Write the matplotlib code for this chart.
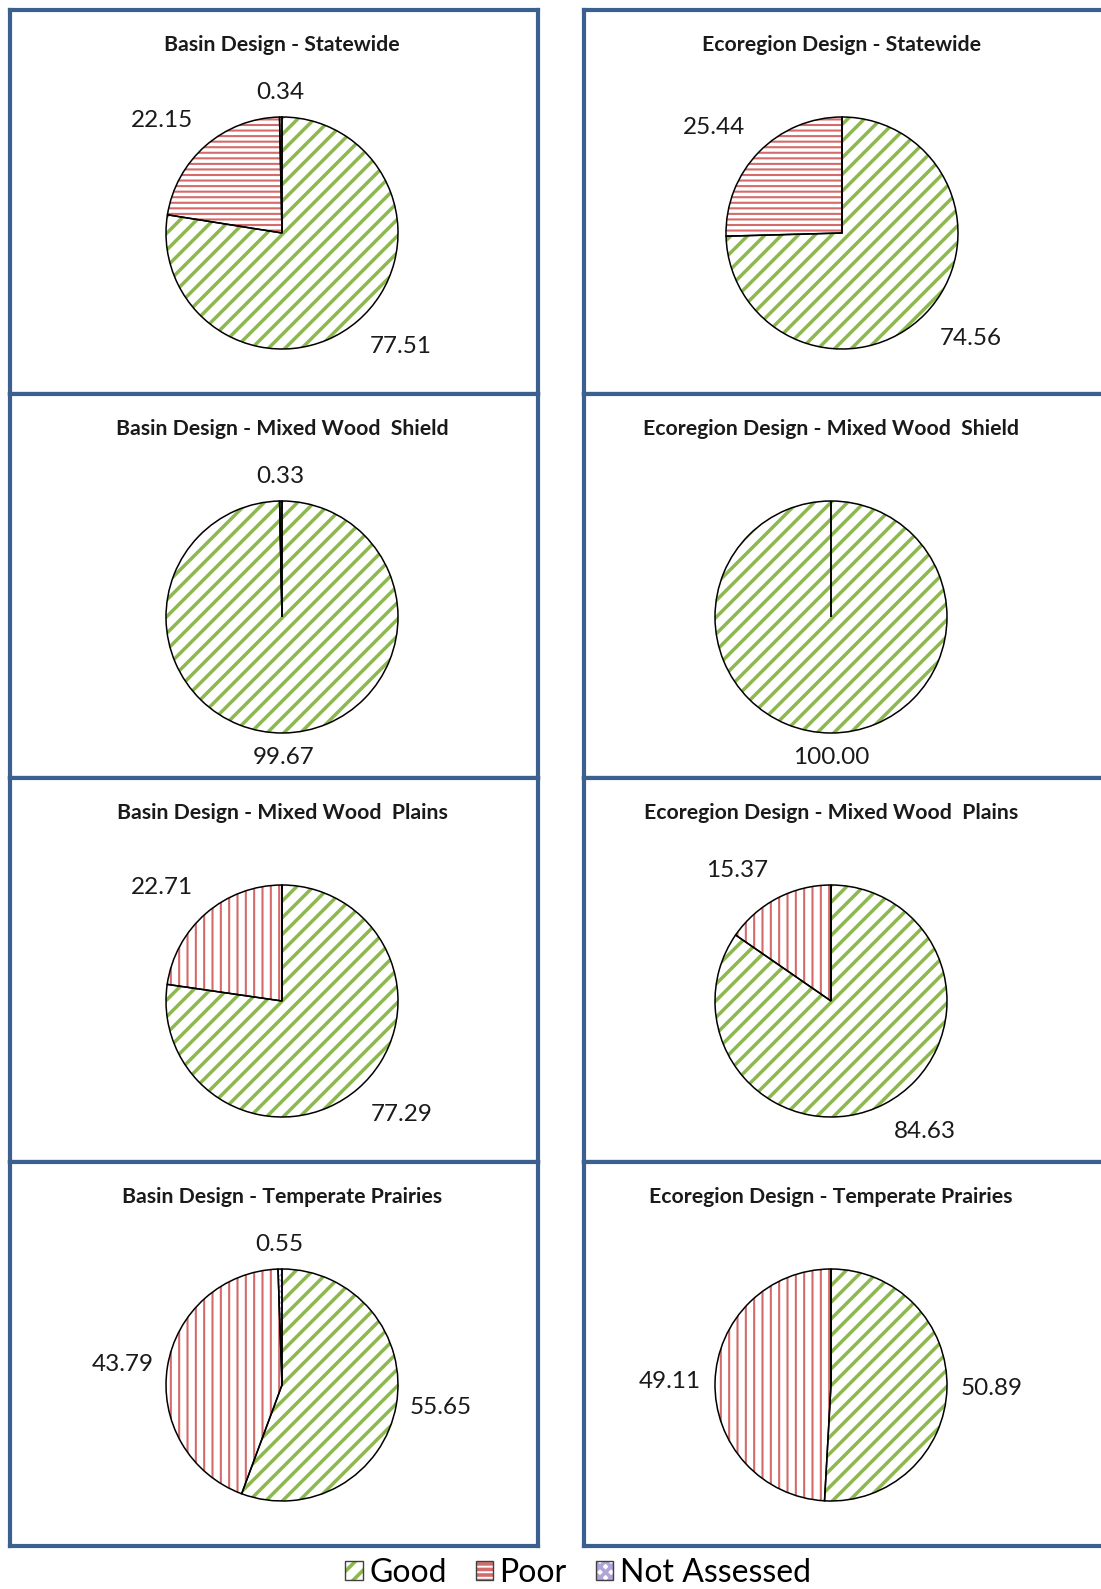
import matplotlib
matplotlib.use("Agg")
import matplotlib.pyplot as plt
from matplotlib.patches import Patch
from matplotlib.legend_handler import HandlerTuple
import numpy as np

# ---- Data ----
titles = [
    "Basin Design - Statewide", "Ecoregion Design - Statewide",
    "Basin Design - Mixed Wood  Shield", "Ecoregion Design - Mixed Wood  Shield",
    "Basin Design - Mixed Wood  Plains", "Ecoregion Design - Mixed Wood  Plains",
    "Basin Design - Temperate Prairies", "Ecoregion Design - Temperate Prairies",
]
good = [77.51, 74.56, 99.67, 100.00, 77.29, 84.63, 55.65, 50.89]
poor = [22.15, 25.44, 0.0, 0.0, 22.71, 15.37, 43.79, 49.11]
not_assessed = [0.34, 0.0, 0.33, 0.0, 0.0, 0.0, 0.55, 0.0]
categories = ["Good", "Poor", "Not Assessed"]

# ---- Styles ----
green = "#8DB850"
red = "#D46A6A"
purple = "#B0A4DA"
border = "#3B5F8F"
plt.rcParams["hatch.linewidth"] = 2.6
hatch_lw = [2.5, 1.5, 1.0]

W, H = 1101, 1589
panel_w, panel_h = 528, 384
col_x = [10, 584]
row_top = [10, 394, 778, 1162]
radius = 116

title_font = ["Lato", "DejaVu Sans"]
num_font = ["Lato", "DejaVu Sans"]

fig = plt.figure(figsize=(W / 100, H / 100), dpi=100)

for i, title in enumerate(titles):
    row, col = divmod(i, 2)
    x0 = col_x[col]
    top = row_top[row]
    ax = fig.add_axes([x0 / W, 1 - (top + panel_h) / H, panel_w / W, panel_h / H])

    if col == 0:
        cx = 272
    else:
        cx = 258 if row == 0 else 247
    cy = panel_h - 223

    vals = [good[i], poor[i], not_assessed[i]]
    poor_hatch = "---" if row == 0 else "||"
    hatches = ["//", poor_hatch, "xxx"]
    hcolors = [green, red, purple]

    # hatched fill
    wedges, _ = ax.pie(vals, startangle=90, counterclock=False, radius=radius,
                       center=(cx, cy), frame=True, hatch=hatches,
                       colors=["white"] * 3, wedgeprops=dict(linewidth=0))
    for w, c, lw in zip(wedges, hcolors, hatch_lw):
        w.set_edgecolor(c)
        w.set_linewidth(0)
        if hasattr(w, "set_hatch_linewidth"):
            w.set_hatch_linewidth(lw)
    # outlines
    ax.pie(vals, startangle=90, counterclock=False, radius=radius,
           center=(cx, cy), frame=True,
           wedgeprops=dict(fill=False, edgecolor="black", linewidth=1.1))

    # value labels outside the wedges
    total = sum(vals)
    cum = 0.0
    for v in vals:
        if v > 0:
            ang = np.deg2rad(90 - (cum + v / 2) / total * 360)
            dx, dy = np.cos(ang), np.sin(ang)
            ha = "center" if abs(dx) < 0.25 else ("left" if dx > 0 else "right")
            va = "center" if abs(dy) < 0.25 else ("bottom" if dy > 0 else "top")
            dist = 1.12 if (ha == "center" or va == "center") else 1.17
            ax.text(cx + dist * radius * dx, cy + dist * radius * dy, f"{v:.2f}",
                    ha=ha, va=va, fontsize=17.5, family=num_font, color="#1a1a1a")
        cum += v

    ax.text(cx, panel_h - 35, title, ha="center", va="center", fontsize=15.3,
            fontweight="bold", family=title_font, color="#1a1a1a")

    ax.set_xlim(0, panel_w)
    ax.set_ylim(0, panel_h)
    ax.set_aspect("auto")
    ax.set_xticks([])
    ax.set_yticks([])
    for s in ax.spines.values():
        s.set_color(border)
        s.set_linewidth(3.0)

# ---- Legend ----
handles = []
for c, h, lw in zip([green, red, purple], ["//", "---", "xxx"], hatch_lw):
    p = Patch(facecolor="white", edgecolor=c, hatch=h, linewidth=0)
    if hasattr(p, "set_hatch_linewidth"):
        p.set_hatch_linewidth(lw)
    handles.append((p, Patch(fill=False, edgecolor="#404040", linewidth=1)))
fig.legend(handles, categories, loc="center", bbox_to_anchor=(578 / W, 1 - 1573 / H),
           ncol=3, frameon=False, prop={"family": num_font, "size": 23},
           handler_map={tuple: HandlerTuple(ndivide=1)},
           handlelength=0.55, handleheight=0.55, handletextpad=0.2, columnspacing=0.9)

fig.savefig("out.png", dpi=100)
